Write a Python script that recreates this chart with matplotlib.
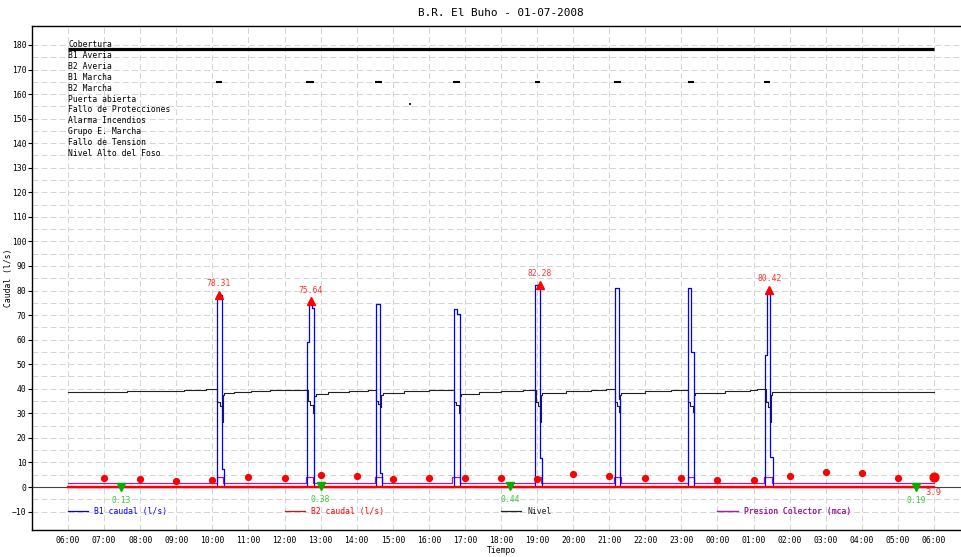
import matplotlib
matplotlib.use('Agg')
import matplotlib.pyplot as plt

plt.rcParams['font.family'] = ['DejaVu Sans Mono', 'DejaVu Sans']
plt.rcParams['lines.scale_dashes'] = False

# ---------------- data ----------------
title = "B.R. El Buho - 01-07-2008"
hour_ticks = list(range(6, 31))
hour_labels = ["06:00", "07:00", "08:00", "09:00", "10:00", "11:00", "12:00",
               "13:00", "14:00", "15:00", "16:00", "17:00", "18:00", "19:00",
               "20:00", "21:00", "22:00", "23:00", "00:00", "01:00", "02:00",
               "03:00", "04:00", "05:00", "06:00"]

alarm_labels = ["Cobertura", "B1 Averia", "B2 Averia", "B1 Marcha", "B2 Marcha",
                "Puerta abierta", "Fallo de Protecciones", "Alarma Incendios",
                "Grupo E. Marcha", "Fallo de Tension", "Nivel Alto del Foso"]
cobertura_interval = [(6.0, 30.0)]
b1_marcha_intervals = [(10.10, 10.27), (12.59, 12.81), (14.50, 14.69), (16.66, 16.85),
                       (18.93, 19.09), (21.14, 21.34), (23.19, 23.36), (25.29, 25.46)]
puerta_intervals = [(15.44, 15.51)]

# B1 caudal (l/s) - step series
b1_t = [6.00, 10.125, 10.255, 10.31, 12.635, 12.67, 12.755, 12.82,
        14.526, 14.65, 14.71, 16.694, 16.78, 16.86, 18.955, 19.09, 19.14,
        21.17, 21.27, 21.30, 23.17, 23.26, 23.34, 25.32, 25.367, 25.46, 25.55, 30.0]
b1_v = [0, 78.31, 7.5, 0, 59.0, 75.64, 73.0, 0,
        74.4, 5.5, 0, 72.4, 70.5, 0, 82.28, 11.8, 0,
        80.9, 36.0, 0, 80.9, 55.0, 0, 53.8, 80.42, 12.3, 0, 0]

# B2 caudal (l/s)
b2_t = [6.0, 30.0]
b2_v = [0.0, 0.0]

# Nivel - step series
nivel_t = [6.00, 7.63, 9.20, 9.82,
           10.14, 10.22, 10.28, 10.30, 10.33, 10.60, 11.07, 11.60, 12.17,
           12.64, 12.70, 12.80, 12.82, 12.86, 13.20, 13.80, 14.30,
           14.53, 14.60, 14.66, 14.68, 14.72, 15.30, 16.00, 16.60,
           16.69, 16.76, 16.84, 16.86, 16.90, 17.40, 18.00, 18.60,
           18.96, 19.02, 19.09, 19.11, 19.15, 19.80, 20.50, 20.90,
           21.17, 21.22, 21.28, 21.30, 21.34, 22.00, 22.70, 22.90,
           23.18, 23.24, 23.32, 23.34, 23.38, 24.20, 24.90, 25.10,
           25.34, 25.40, 25.46, 25.48, 25.52, 30.00]
nivel_v = [38.8, 39.0, 39.4, 39.8,
           34.7, 33.0, 26.6, 37.5, 38.2, 38.8, 39.2, 39.5, 39.7,
           35.0, 33.5, 30.3, 37.0, 38.0, 38.7, 39.2, 39.5,
           35.0, 34.0, 32.7, 37.5, 38.2, 38.9, 39.3, 39.6,
           34.5, 33.5, 30.3, 37.0, 38.0, 38.8, 39.2, 39.5,
           34.5, 33.0, 26.6, 37.5, 38.2, 39.0, 39.5, 39.8,
           34.5, 33.0, 30.7, 37.5, 38.3, 39.2, 39.5, 39.7,
           34.5, 33.0, 30.7, 37.5, 38.3, 39.1, 39.4, 39.8,
           34.7, 32.7, 26.6, 37.5, 38.8, 38.8]

# Presion Colector (mca)
pres_t = [6.0, 10.125, 10.29, 12.59, 12.80, 14.50, 14.70, 16.65, 16.86,
          18.93, 19.12, 21.14, 21.32, 23.17, 23.35, 25.30, 25.50, 30.0]
pres_v = [1.8, 3.9, 1.8, 3.9, 1.8, 3.9, 1.8, 3.9, 1.8,
          3.9, 1.8, 3.9, 1.8, 3.9, 1.8, 3.9, 1.8, 1.8]

# hourly red points
dot_t = list(range(7, 31))
dot_v = [3.5, 3.3, 2.6, 3.0, 3.9, 3.5, 4.9, 4.6, 3.3, 3.5, 3.5, 3.5,
         3.3, 5.3, 4.5, 3.8, 3.8, 2.7, 2.9, 4.6, 6.0, 5.6, 3.5, 3.9]
last_label = "3.9"

# max / min markers
max_t = [10.18, 12.73, 19.07, 25.44]
max_v = [78.31, 75.64, 82.28, 80.42]
min_t = [7.47, 13.0, 18.26, 29.5]
min_v = [0.13, 0.38, 0.44, 0.19]

legend_entries = [("B1 caudal (l/s)", "#0000ff"), ("B2 caudal (l/s)", "#ff0000"),
                  ("Nivel", "#222222"), ("Presion Colector (mca)", "#a020a0")]

# ---------------- figure ----------------
FS = 5.8
W, H = 961, 557
fig = plt.figure(figsize=(W / 100, H / 100), dpi=100)
ax = fig.add_axes([32 / W, 27 / H, 938 / W, 504 / H])
ax.set_xlim(5.0, 31.0)
ax.set_ylim(-17.51, 187.73)

ax.set_xticks(hour_ticks)
ax.set_xticklabels(hour_labels, fontsize=FS)
ax.set_yticks(list(range(-10, 181, 10)))
ax.set_yticks(list(range(-5, 180, 10)), minor=True)
ax.tick_params(axis='y', which='major', labelsize=FS, length=3, width=0.8, pad=1)
ax.tick_params(axis='y', which='minor', length=0)
ax.tick_params(axis='x', which='major', length=0, pad=4)
ax.grid(True, which='both', color='#d4d4d4', linestyle=(0, (4.3, 2.2)), linewidth=0.7)
ax.set_axisbelow(True)
for s in ['left', 'bottom', 'top']:
    ax.spines[s].set_linewidth(1.0)
ax.spines['right'].set_visible(False)

ax.set_title(title, fontsize=7.9, pad=7)
ax.set_xlabel("Tiempo", fontsize=FS, labelpad=1)
ax.set_ylabel("Caudal (l/s)", fontsize=FS)
ax.yaxis.set_label_coords(-19 / 938, 0.5)

# zero line
ax.axhline(0, color='#444444', linewidth=0.8, zorder=1)

# alarm labels and bars
for i, lab in enumerate(alarm_labels):
    ax.text(6.0, 180 - 4.4 * i, lab, fontsize=FS, va='center', ha='left', zorder=6)
lev_cob = 180 - 1.7
for a, b in cobertura_interval:
    ax.plot([a, b], [lev_cob, lev_cob], color='black', lw=2.3, solid_capstyle='butt', zorder=5)
lev_b1m = 180 - 4.4 * 3 - 1.9
for a, b in b1_marcha_intervals:
    ax.plot([a, b], [lev_b1m, lev_b1m], color='black', lw=1.5, solid_capstyle='butt', zorder=5)
lev_pa = 180 - 4.4 * 5 - 1.9
for a, b in puerta_intervals:
    ax.plot([a, b], [lev_pa, lev_pa], color='black', lw=1.2, solid_capstyle='butt', zorder=5)

# series
ax.plot(pres_t, pres_v, drawstyle='steps-post', color='#a020a0', lw=0.9, zorder=3)
ax.plot(nivel_t, nivel_v, drawstyle='steps-post', color='#222222', lw=0.8, zorder=3)
ax.plot(b1_t, b1_v, drawstyle='steps-post', color='#0000ff', lw=0.9, zorder=4)
ax.plot(b2_t, b2_v, color='#ff0000', lw=1.7, zorder=4)

ax.plot(dot_t[:-1], dot_v[:-1], 'o', color='#ff0000', markersize=4.2, lw=0, zorder=6)
ax.plot(dot_t[-1:], dot_v[-1:], 'o', color='#ff0000', markersize=6.3, lw=0, zorder=6)
ax.annotate(last_label, (dot_t[-1], dot_v[-1]), xytext=(-6, -10.5), textcoords='offset points',
            ha='left', va='center', fontsize=FS + 0.6, color='#ff3030')

ax.plot(max_t, max_v, '^', color='#ff0000', markersize=5.5, lw=0, zorder=7)
for t, v in zip(max_t, max_v):
    ax.annotate(f"{v:.2f}", (t, v), xytext=(0, 8), textcoords='offset points',
                ha='center', va='center', fontsize=FS, color='#ff3030')
ax.plot(min_t, min_v, 'v', color='#00b000', markersize=5.5, lw=0, zorder=7)
for t, v in zip(min_t, min_v):
    ax.annotate(f"{v:.2f}", (t, v), xytext=(0, -10), textcoords='offset points',
                ha='center', va='center', fontsize=FS, color='#33cc33')

# bottom legend (one entry every 6 hours)
for k, (lab, col) in enumerate(legend_entries):
    ln, = ax.plot([], [], color=col, lw=0.9)
    lg = ax.legend([ln], [lab], loc='center left', bbox_to_anchor=(6 + 6 * k, -9.8),
                   bbox_transform=ax.transData, frameon=False, borderpad=0,
                   borderaxespad=0, handlelength=2.5, handletextpad=0.75, fontsize=FS)
    for tx in lg.get_texts():
        tx.set_color(col)
    ax.add_artist(lg)

fig.savefig('out.png', dpi=100)
